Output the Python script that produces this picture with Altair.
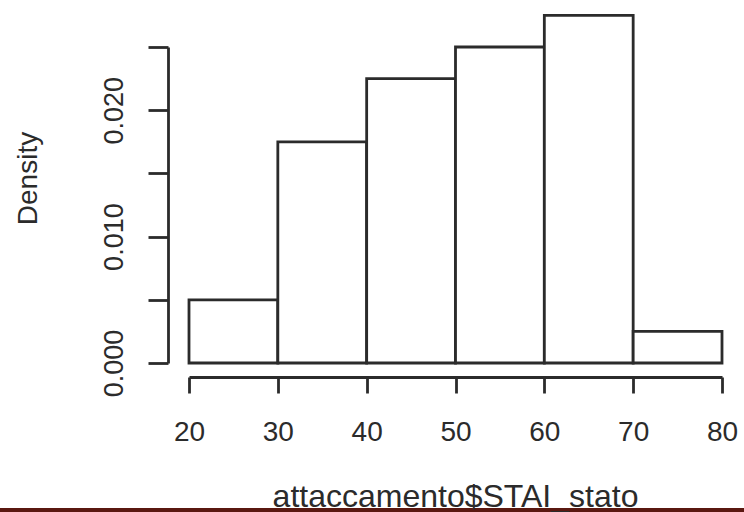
import altair as alt
import pandas as pd

# Histogram of attaccamento$STAI_stato (density scale, bins of width 10)
bin_start = [20, 30, 40, 50, 60, 70]
bin_end = [30, 40, 50, 60, 70, 80]
density = [0.005, 0.0175, 0.0225, 0.025, 0.0275, 0.0025]

x_ticks = [20, 30, 40, 50, 60, 70, 80]
y_ticks = [0.0, 0.005, 0.010, 0.015, 0.020, 0.025]
y_labels = ["0.000", "0.010", "0.020"]

df = pd.DataFrame({"start": bin_start, "end": bin_end, "density": density})

INK = "#2b2b2b"
FONT = "Liberation Sans"

label_list = "[" + ",".join("'%s'" % s for s in y_labels) + "]"
y_label_expr = (
    "indexof(%s, format(datum.value, '.3f')) >= 0 ? format(datum.value, '.3f') : ''"
    % label_list
)

x_enc = alt.X(
    "start:Q",
    scale=alt.Scale(domain=[20, 80], nice=False, zero=False),
    axis=alt.Axis(
        values=x_ticks,
        title="attaccamento$STAI_stato",
        grid=False,
        offset=14,
        tickSize=16,
        tickWidth=2.8,
        tickColor=INK,
        domainColor=INK,
        domainWidth=2.8,
        labelFont=FONT,
        labelFontSize=28,
        labelColor=INK,
        labelBaseline="alphabetic",
        labelPadding=47,
        labelFlush=False,
        labelOverlap=False,
        titleFont=FONT,
        titleFontSize=32,
        titleFontWeight="normal",
        titleColor=INK,
        titleBaseline="alphabetic",
        titleAnchor="middle",
        titleX=266,
        titleY=129,
        zindex=1,
    ),
)

y_enc = alt.Y(
    "density:Q",
    scale=alt.Scale(domain=[0, 0.025], nice=False),
    axis=alt.Axis(
        values=y_ticks,
        labelExpr=y_label_expr,
        title="Density",
        grid=False,
        offset=21,
        tickSize=20,
        tickWidth=2.8,
        tickColor=INK,
        domainColor=INK,
        domainWidth=2.8,
        labelFont=FONT,
        labelFontSize=27,
        labelColor=INK,
        labelAngle=-90,
        labelAlign="center",
        labelBaseline="alphabetic",
        labelPadding=26,
        labelFlush=False,
        labelOverlap=False,
        titleFont=FONT,
        titleFontSize=28,
        titleFontWeight="normal",
        titleColor=INK,
        titleAngle=-90,
        titleAlign="center",
        titleBaseline="middle",
        titleX=-140,
        titleY=131,
    ),
)

bars = alt.Chart(df).mark_rect(
    fill="white", stroke=INK, strokeWidth=2.8, clip=False
).encode(
    x=x_enc,
    x2="end:Q",
    y=y_enc,
    y2=alt.datum(0),
)

# dark frame strip along the bottom edge
strip = alt.Chart(df).mark_rect(color="#5a1810").encode(
    x=alt.value(-189),
    x2=alt.value(555),
    y=alt.value(461),
    y2=alt.value(470),
)

chart = (
    alt.layer(strip, bars)
    .properties(
        width=533,
        height=316,
        padding={"left": 189, "top": 47, "right": 22, "bottom": 149},
        autosize=alt.AutoSizeParams(type="none"),
        background="white",
    )
    .configure_view(stroke=None)
)

chart.save("out.html", embed_options={"renderer": "svg", "actions": False})
